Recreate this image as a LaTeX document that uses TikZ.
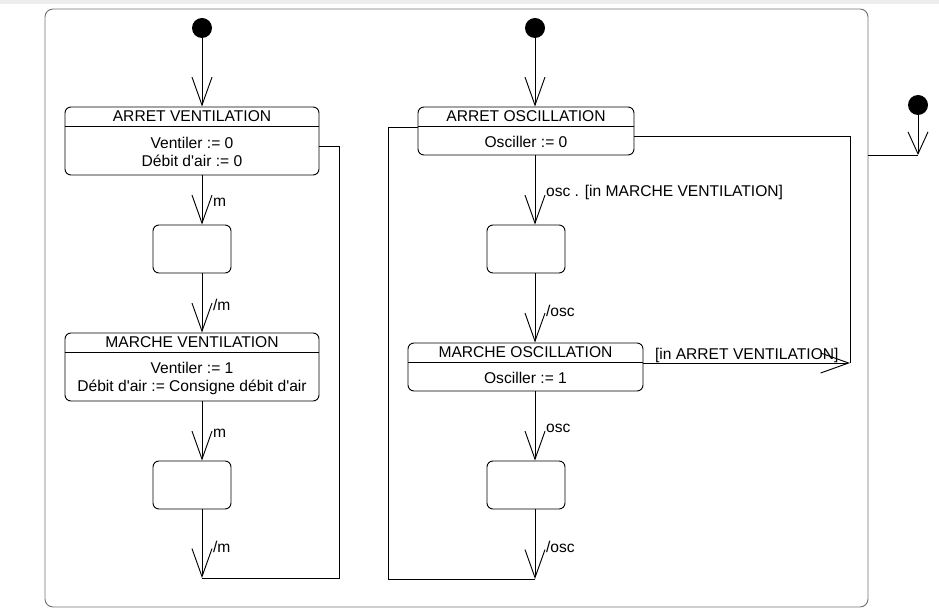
\documentclass[tikz,border=0pt]{standalone}
\usepackage{fontspec}
\setmainfont{Liberation Sans}
\usetikzlibrary{arrows.meta,calc}

\tikzset{
  etat/.style={draw, rounded corners=4.5pt, inner sep=0pt},
  init/.style={circle, fill=black, minimum size=15pt, inner sep=0pt},
  lbl/.style={anchor=west, inner sep=0pt, xshift=8pt, pos=.54},
}

\begin{document}
\begin{tikzpicture}[x=0.75pt,y=-0.75pt,line width=0.7pt,
    >={Straight Barb[length=21pt,width=15pt]},
    font=\fontsize{11.7}{13.5}\selectfont]
  \useasboundingbox (0,0) rectangle (939,616);
  \fill[black!7] (0,0) rectangle (939,4);
  % etat composite
  \node[draw=black!55, rounded corners=6pt, minimum width=617.25pt,
        minimum height=448.5pt, inner sep=0pt] (comp) at (456.5,308) {};

  % ventilation
  \node[init] (ini1) at (202,28) {};
  \node[etat, minimum width=190.5pt, minimum height=51pt] (arretV) at (192,141) {};
  \node[etat, minimum width=58.5pt, minimum height=36pt] (attV1) at (192,249) {};
  \node[etat, minimum width=190.5pt, minimum height=51pt] (marcheV) at (192,367) {};
  \node[etat, minimum width=58.5pt, minimum height=36pt] (attV2) at (192,485) {};
  \node (arretVt) at ($(arretV.north)+(0,10)$) {ARRET VENTILATION};
  \node[align=center] (arretVb) at ($(arretV.south)+(0,-24)$) {Ventiler := 0\\Débit d\textquotesingle air := 0};
  \node (marcheVt) at ($(marcheV.north)+(0,10)$) {MARCHE VENTILATION};
  \node[align=center] (marcheVb) at ($(marcheV.south)+(0,-23)$) {Ventiler := 1\\Débit d\textquotesingle air := Consigne débit d\textquotesingle air};
  \draw ($(arretV.north west)+(0,20)$) -- ($(arretV.north east)+(0,20)$);
  \draw ($(marcheV.north west)+(0,20)$) -- ($(marcheV.north east)+(0,20)$);

  \draw[->] (ini1) -- (ini1 |- arretV.north);
  \draw[->] (arretV.south -| ini1) -- node[lbl] {m} (attV1.north -| ini1);
  \draw[->] (attV1.south -| ini1) -- node[lbl] {/m} (marcheV.north -| ini1);
  \draw[->] (marcheV.south -| ini1) -- node[lbl] {m} (attV2.north -| ini1);
  \coordinate (jV) at (202,578);
  \coordinate (retV) at (339,146);
  \draw[->] (attV2.south -| ini1) -- node[lbl] {/m} (jV);
  \draw (jV) -| (retV) -- (retV -| arretV.east);

  % oscillation
  \node[init] (ini2) at (535,28) {};
  \node[etat, minimum width=162pt, minimum height=36pt] (arretO) at (526,131) {};
  \node[etat, minimum width=58.5pt, minimum height=36pt] (attO1) at (526,249) {};
  \node[etat, minimum width=176.25pt, minimum height=36pt] (marcheO) at (525.5,367) {};
  \node[etat, minimum width=58.5pt, minimum height=36pt] (attO2) at (526,485) {};
  \node (arretOt) at ($(arretO.north)+(0,10)$) {ARRET OSCILLATION};
  \node (arretOb) at ($(arretO.south)+(0,-14)$) {Osciller := 0};
  \node (marcheOt) at ($(marcheO.north)+(0,10)$) {MARCHE OSCILLATION};
  \node (marcheOb) at ($(marcheO.south)+(0,-14)$) {Osciller := 1};
  \draw ($(arretO.north west)+(0,20)$) -- ($(arretO.north east)+(0,20)$);
  \draw ($(marcheO.north west)+(0,20)$) -- ($(marcheO.north east)+(0,20)$);

  \draw[->] (ini2) -- (ini2 |- arretO.north);
  \draw[->] (arretO.south -| ini2) -- node[lbl] {osc . [in MARCHE VENTILATION]} (attO1.north -| ini2);
  \draw[->] (attO1.south -| ini2) -- node[lbl] {/osc} (marcheO.north -| ini2);
  \draw[->] (marcheO.south -| ini2) -- node[lbl] {osc} (attO2.north -| ini2);
  \coordinate (jO) at (535,579);
  \coordinate (retO) at (388,127);
  \draw[->] (attO2.south -| ini2) -- node[lbl] {/osc} (jO);
  \draw (jO) -| (retO) -- (retO -| arretO.west);
  \coordinate (kO) at (850,363);
  \coordinate (retO2) at (850,136);
  \draw[->] (marcheO.east |- kO) -- node[above, inner sep=0pt] {[in ARRET VENTILATION]} (kO);
  \draw (kO) -- (retO2) -- (retO2 -| arretO.east);

  % etat initial global
  \node[init] (ini3) at (918,105) {};
  \coordinate (jC) at (918,155);
  \draw[->, >={Straight Barb[length=16.5pt,width=15pt]}] (ini3) -- (jC);
  \draw (jC) -- (jC -| comp.east);
\end{tikzpicture}
\end{document}
